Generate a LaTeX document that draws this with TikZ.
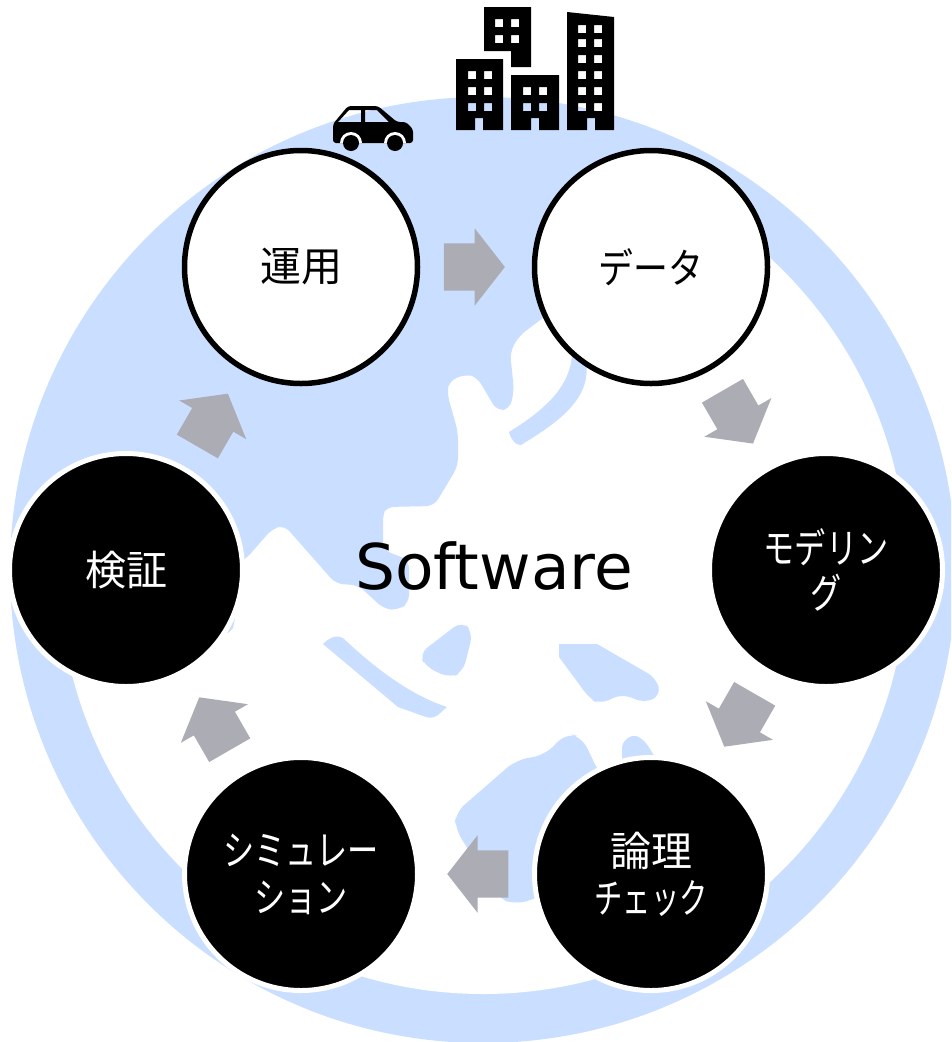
\documentclass[tikz,border=0pt]{standalone}
\usepackage{fontspec}
\setmainfont{DejaVu Sans}
\newfontfamily\kanjifont{Noto Sans CJK JP}
\newfontfamily\kanafont[FakeStretch=0.76]{Noto Sans CJK JP}
\newfontfamily\widekana[FakeStretch=0.85]{Noto Sans CJK JP}
\newfontfamily\narrowkana[FakeStretch=0.69]{Noto Sans CJK JP}
\usetikzlibrary{shapes.arrows}

\definecolor{landblue}{HTML}{CADFFF}
\definecolor{arrowgray}{HTML}{ABACB4}

\begin{document}
\begin{tikzpicture}[x=1pt, y=-1pt, align=center]

    \tikzset{
      vertex/.style = {shape=circle, minimum size=233pt, inner sep=0pt, line width=5pt,
        font=\kanjifont\fontsize{41}{47}\selectfont},
      openvertex/.style = {vertex, draw=black, fill=white, text=black, line width=5.5pt},
      blackvertex/.style = {vertex, draw=white, fill=black, text=white},
      flowarrow/.style = {shape=single arrow, fill=arrowgray, inner sep=0pt, sloped,
        allow upside down, anchor=tail, pos=0.21, minimum height=61pt,
        text height=47pt, text depth=0pt,
        single arrow head extend=15pt, single arrow tip angle=104},
      land/.style = {fill=landblue, rounded corners=8pt},
      icon/.style = {fill=black, even odd rule},
    }

    \clip (0,0) rectangle (951,1042);
    \coordinate (globe) at (483,570);

    \fill[landblue] (globe) circle[radius=473pt];
    \fill[white] (globe) circle[radius=424pt];

    \begin{scope}
      \clip (globe) circle[radius=425pt];
      \fill[land] (560,305) -- (519,336) -- (510,352) -- (514,390) -- (510,409) -- (497,411)
        -- (477,377) -- (466,374) -- (449,381) -- (447,393) -- (458,432) -- (458,466)
        -- (434,506) -- (386,507) -- (383,513) -- (383,550) -- (409,560) -- (409,603)
        -- (398,610) -- (384,609) -- (358,585) -- (336,584) -- (284,525) -- (272,529)
        -- (245,560) -- (100,620) -- (30,620) -- (30,90) -- (640,90) -- cycle;
    \end{scope}

    % islands
    \fill[landblue] (572,355) .. controls (570,385) and (548,408) .. (509,432)
      .. controls (510,438) and (516,446) .. (521,445)
      .. controls (555,424) and (592,400) .. (586,362) -- cycle;
    \fill[landblue] (323,644) .. controls (330,637) and (338,634) .. (344,639)
      .. controls (375,668) and (410,695) .. (447,707) -- (438,715)
      .. controls (434,718) and (430,718) .. (426,717) -- (398,707) -- cycle;
    \fill[land, rounded corners=10pt] (462,621) -- (473,632) -- (463,672) -- (450,678) -- (426,667)
      -- (419,654) -- cycle;
    \fill[landblue] (559,657) -- (559,644) -- (597,644) [rounded corners=9pt] -- (656,678)
      -- (661,695) -- (645,703) -- (622,694) -- (600,704) -- (590,699) [sharp corners] -- (559,657) -- cycle;
    \fill[land, rounded corners=12pt] (455,813) -- (516,760) -- (545,755) -- (566,733) -- (582,737)
      -- (600,775) -- (640,800) -- (560,890) -- (515,905) -- (497,897) -- (455,828) -- cycle;
    \fill[land, rounded corners=6pt] (622,770) -- (622,742) -- (634,734) -- (645,741) -- (658,762) -- cycle;
    \fill[landblue] (220,618) -- (235,618) -- (233,628) -- (228,633) -- cycle;

    \node[openvertex]  (unyo)  at (301,267) {運用};
    \node[openvertex]  (data)  at (651,267) {\widekana データ};
    \node[blackvertex] (model) at (826,570) {\kanafont モデリン\\[-2pt]\kanafont グ};
    \node[blackvertex] (check) at (651,874) {論理\\\narrowkana チェック};
    \node[blackvertex] (simu)  at (301,874) {\kanafont シミュレー\\\kanafont ション};
    \node[blackvertex] (verif) at (126,570) {検証};

    \node[font=\fontsize{63}{70}\selectfont] (soft) at (494,566) {Software};

    \path (unyo)  -- node[flowarrow] (a1) {} (data);
    \path (data)  -- node[flowarrow] (a2) {} (model);
    \path (model) -- node[flowarrow] (a3) {} (check);
    \path (check) -- node[flowarrow] (a4) {} (simu);
    \path (simu)  -- node[flowarrow] (a5) {} (verif);
    \path (verif) -- node[flowarrow] (a6) {} (unyo);

    % buildings
    \fill[icon] (456,59) -| (503,130) -| (483,118) -| (475,130) -| cycle
      \foreach \y in {71,87,103} {
        (468,\y) rectangle +(8,8) (484,\y) rectangle +(8,8)
      };
    \fill[icon] (484,7) -| (531,67) -| (511,51) -| cycle
      \foreach \y in {19,35} {
        (495,\y) rectangle +(8,8) (511,\y) rectangle +(8,8)
      };
    \fill[icon] (511,75) -| (559,130) -| (539,118) -| (531,130) -| cycle
      \foreach \y in {87,103} {
        (523,\y) rectangle +(8,8) (539,\y) rectangle +(8,8)
      };
    \fill[icon] (567,12) -- (614,17) |- (595,130) |- (587,118) |- (567,130) -- cycle
      \foreach \y in {25,39,55,71,87,103} {
        (578,\y) rectangle +(8,8) (594,\y) rectangle +(8,8)
      };

    % car
    \fill[icon] [rounded corners=3pt] (333,124) -- (348,106) -- (378,106) -- (397,122) -- (406,122)
      -- (413,129) -- (413,143) -- (333,143) -- cycle
      [sharp corners] (338,122) -- (349,110) -- (361,110) -- (361,122) -- cycle
      (365,110) -- (377,110) -- (389,122) -- (365,122) -- cycle;
    \fill[white] (340,143) arc[start angle=180, end angle=0, radius=11pt] -- cycle;
    \fill[white] (384,143) arc[start angle=180, end angle=0, radius=11pt] -- cycle;
    \fill[black] (351,143) circle[radius=8pt];
    \fill[black] (395,143) circle[radius=8pt];

\end{tikzpicture}
\end{document}
